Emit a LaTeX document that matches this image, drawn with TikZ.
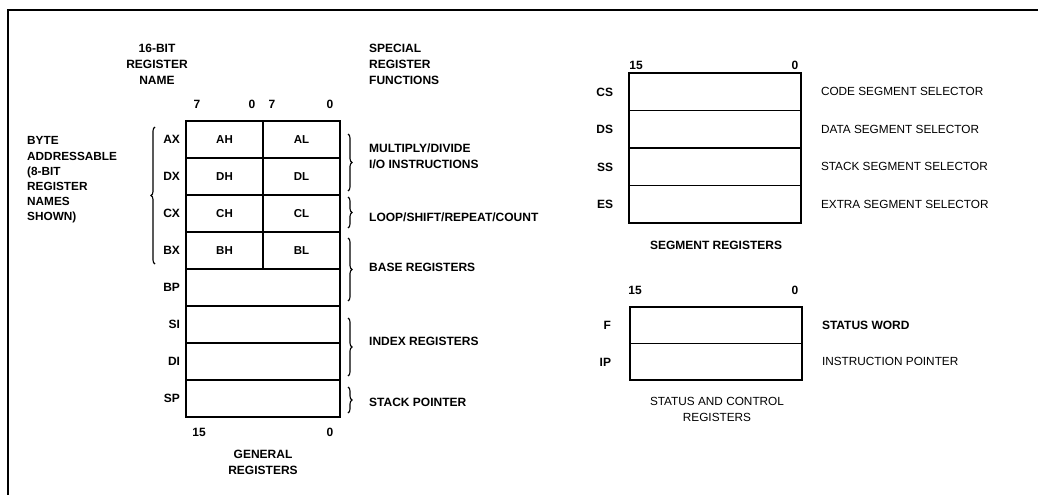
\documentclass[tikz,border=0pt]{standalone}
\usepackage{fontspec}
\setmainfont{Liberation Sans}
\usetikzlibrary{positioning, decorations.pathreplacing}

\begin{document}
\begin{tikzpicture}[
    x=1pt, y=-1pt,
    reg/.style={draw, line width=1.6pt, minimum width=154pt, minimum height=37pt,
                inner sep=0pt, font=\fontsize{11.5}{14}\selectfont\bfseries},
    half/.style={reg, minimum width=77pt},
    seg/.style={reg, minimum width=172pt, minimum height=37.5pt},
    txt/.style={inner sep=0pt, font=\fontsize{12}{16}\selectfont\bfseries},
    plain/.style={inner sep=0pt, font=\fontsize{11.8}{16}\selectfont},
    rname/.style={txt, text height=8.5pt, text depth=0pt},
    grp/.style={decorate, decoration={brace, amplitude=4pt}, line width=1.1pt},
  ]
  \useasboundingbox (0,0) rectangle (1038,495);
  \draw[line width=1.8pt] (1038,10) -- (8,10) -- (8,495);

  % general registers
  \node[txt, align=center] (hdname) at (157,64) {16-BIT\\REGISTER\\NAME};
  \node[txt, align=left, anchor=west] (hdfunc) at (369,64) {SPECIAL\\REGISTER\\FUNCTIONS};
  \node[txt, align=left, anchor=west, font=\fontsize{11.8}{15.2}\selectfont\bfseries]
    (byte) at (27,180) {BYTE\\ADDRESSABLE\\(8-BIT\\REGISTER\\NAMES\\SHOWN)};

  \node[rname] (b7h) at (197,104) {7};
  \node[rname] (b0h) at (252,104) {0};
  \node[rname] (b7l) at (272,104) {7};
  \node[rname] (b0l) at (330,104) {0};

  \node[half] (ah) at (224.5,139.5) {AH};
  \node[half] (al) at (301.5,139.5) {AL};
  \node[half] (dh) at (224.5,176.5) {DH};
  \node[half] (dl) at (301.5,176.5) {DL};
  \node[half] (ch) at (224.5,213.5) {CH};
  \node[half] (cl) at (301.5,213.5) {CL};
  \node[half] (bh) at (224.5,250.5) {BH};
  \node[half] (bl) at (301.5,250.5) {BL};
  \node[reg] (bp) at (263,287.5) {};
  \node[reg] (si) at (263,324.5) {};
  \node[reg] (di) at (263,361.5) {};
  \node[reg] (sp) at (263,398.5) {};

  \node[rname, left=5pt of ah] {AX};
  \node[rname, left=5pt of dh] {DX};
  \node[rname, left=5pt of ch] {CX};
  \node[rname, left=5pt of bh] {BX};
  \node[rname, left=5pt of bp] {BP};
  \node[rname, left=5pt of si] {SI};
  \node[rname, left=5pt of di] {DI};
  \node[rname, left=5pt of sp] {SP};

  \node[rname] (b15g) at (199,432) {15};
  \node[rname] (b0g) at (330,432) {0};
  \node[txt, align=center] (general) at (263,462.5) {GENERAL\\REGISTERS};

  \draw[grp] (155,264) -- (155,127);
  \draw[grp] (348,134) -- (348,191);
  \draw[grp] (348,197) -- (348,228);
  \draw[grp] (348,238) -- (348,301);
  \draw[grp] (348,318) -- (348,376);
  \draw[grp] (348,387) -- (348,413);

  \node[txt, align=left, anchor=west] (muldiv) at (369,156) {MULTIPLY/DIVIDE\\I/O INSTRUCTIONS};
  \node[rname, anchor=west] (loop) at (369,217) {LOOP/SHIFT/REPEAT/COUNT};
  \node[rname, anchor=west] (base) at (369,267) {BASE REGISTERS};
  \node[rname, anchor=west] (index) at (369,341) {INDEX REGISTERS};
  \node[rname, anchor=west] (stack) at (369,402) {STACK POINTER};

  % segment registers
  \node[rname] (b15s) at (636,65) {15};
  \node[rname] (b0s) at (795,65) {0};
  \node[seg] (cs) at (715,91.75) {};
  \node[seg] (ds) at (715,129.25) {};
  \node[seg] (ss) at (715,166.75) {};
  \node[seg] (es) at (715,204.25) {};
  \node[rname, left=15pt of cs] {CS};
  \node[rname, left=15pt of ds] {DS};
  \node[rname, left=15pt of ss] {SS};
  \node[rname, left=15pt of es] {ES};
  \node[plain, right=19pt of cs] {CODE SEGMENT SELECTOR};
  \node[plain, right=19pt of ds] {DATA SEGMENT SELECTOR};
  \node[plain, right=19pt of ss] {STACK SEGMENT SELECTOR};
  \node[plain, right=19pt of es] {EXTRA SEGMENT SELECTOR};
  \node[txt] (segment) at (716,245) {SEGMENT REGISTERS};

  % status and control
  \node[rname] (b15f) at (635,290) {15};
  \node[rname] (b0f) at (795,290) {0};
  \node[seg, minimum height=36.5pt] (f) at (716,325.25) {};
  \node[seg, minimum height=36.5pt] (ip) at (716,361.75) {};
  \node[rname, left=18pt of f] {F};
  \node[rname, left=18pt of ip] {IP};
  \node[rname, right=19pt of f] {STATUS WORD};
  \node[plain, right=19pt of ip] {INSTRUCTION POINTER};
  \node[plain, align=center] (control) at (717,409.5) {STATUS AND CONTROL\\REGISTERS};
\end{tikzpicture}
\end{document}
